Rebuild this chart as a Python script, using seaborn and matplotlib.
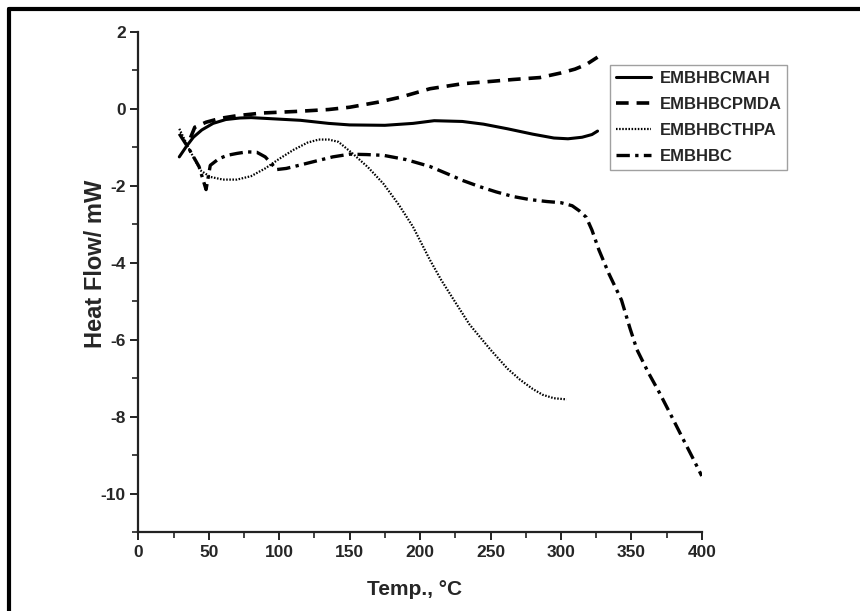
import numpy as np
import pandas as pd
import seaborn as sns
import matplotlib
matplotlib.use("Agg")
import matplotlib.pyplot as plt
from matplotlib.ticker import MultipleLocator
from matplotlib.lines import Line2D

# ---- data ----
mah_T = [29, 34, 39, 45, 53, 62, 72, 80, 95, 115, 135, 150, 175, 195, 210, 230, 245, 262, 280, 295, 305, 315, 322, 326]
mah_H = [-1.25, -0.98, -0.74, -0.55, -0.38, -0.28, -0.24, -0.23, -0.26, -0.30, -0.38, -0.42, -0.43, -0.38, -0.31,
         -0.33, -0.40, -0.52, -0.66, -0.76, -0.78, -0.74, -0.67, -0.58]

pmda_T = [37, 40, 48, 58, 70, 88, 112, 135, 150, 170, 186, 207, 230, 250, 266, 285, 300, 310, 318, 326]
pmda_H = [-0.75, -0.48, -0.35, -0.25, -0.18, -0.11, -0.07, -0.02, 0.04, 0.17, 0.30, 0.52, 0.65, 0.71, 0.76,
          0.81, 0.93, 1.03, 1.15, 1.34]

thpa_T = [29, 36, 44, 51, 60, 70, 80, 90, 100, 110, 120, 128, 135, 142, 152, 163, 174, 185, 195, 207, 215, 224,
          235, 250, 262, 271, 280, 287, 295, 304]
thpa_H = [-0.52, -1.05, -1.6, -1.77, -1.84, -1.84, -1.75, -1.55, -1.30, -1.07, -0.88, -0.80, -0.80, -0.86, -1.16,
          -1.52, -1.95, -2.5, -3.07, -3.93, -4.45, -4.97, -5.6, -6.26, -6.75, -7.04, -7.28, -7.43, -7.52, -7.55]

base_T = [29, 36, 43, 48, 51, 57, 63, 70, 77, 84, 90, 95, 98, 105, 115, 127, 138, 150, 162, 174, 190, 207, 220,
          230, 242, 254, 266, 278, 290, 300, 308, 313, 318, 322, 327, 334, 343, 349, 354, 362, 370, 378, 387, 394, 400]
base_H = [-0.65, -1.05, -1.5, -2.1, -1.47, -1.30, -1.21, -1.16, -1.12, -1.13, -1.25, -1.45, -1.58, -1.55, -1.46,
          -1.35, -1.25, -1.18, -1.19, -1.21, -1.32, -1.50, -1.70, -1.86, -2.02, -2.16, -2.28, -2.36, -2.41, -2.44,
          -2.52, -2.65, -2.82, -3.15, -3.67, -4.28, -4.97, -5.7, -6.26, -6.85, -7.38, -7.95, -8.6, -9.1, -9.54]

names = ["EMBHBCMAH", "EMBHBCPMDA", "EMBHBCTHPA", "EMBHBC"]
x_ticks = [0, 50, 100, 150, 200, 250, 300, 350, 400]
y_ticks = [-10, -8, -6, -4, -2, 0, 2]

frames = []
for n, t, h in zip(names, [mah_T, pmda_T, thpa_T, base_T], [mah_H, pmda_H, thpa_H, base_H]):
    frames.append(pd.DataFrame({"T": t, "H": h, "sample": n}))
df = pd.concat(frames, ignore_index=True)

# ---- style ----
sns.set_style("ticks")
plt.rcParams['font.family'] = ['Liberation Sans', 'DejaVu Sans']
plt.rcParams['font.weight'] = 'bold'

fig = plt.figure(figsize=(8.6, 6.11), dpi=100)
ax = fig.add_axes([0.161, 0.129, 0.655, 0.819])

dashes = {
    "EMBHBCMAH": "",
    "EMBHBCPMDA": (3.5, 2.2),
    "EMBHBCTHPA": (0.7, 0.7),
    "EMBHBC": (4.0, 1.6, 1.0, 1.6),
}
widths = {"EMBHBCMAH": 2.2, "EMBHBCPMDA": 2.6, "EMBHBCTHPA": 1.6, "EMBHBC": 2.4}

handles = []
for n in names:
    sub = df[df["sample"] == n]
    sns.lineplot(data=sub, x="T", y="H", ax=ax, color="black", sort=False, estimator=None,
                 linewidth=widths[n], legend=False)
    line = ax.lines[-1]
    h = Line2D([], [], color="black", lw=widths[n])
    if dashes[n] != "":
        line.set_dashes(dashes[n])
        h.set_dashes(dashes[n])
    handles.append(h)

ax.set_xlim(0, 400)
ax.set_ylim(-11, 2)
ax.set_xticks(x_ticks)
ax.set_yticks(y_ticks)
ax.xaxis.set_minor_locator(MultipleLocator(25))
ax.yaxis.set_minor_locator(MultipleLocator(1))
ax.set_xticklabels([str(v) for v in x_ticks], fontsize=12.5, fontweight='bold')
ax.set_yticklabels([str(v) for v in y_ticks], fontsize=12.5, fontweight='bold')

sns.despine(ax=ax)
for s in ["left", "bottom"]:
    ax.spines[s].set_linewidth(1.6)
    ax.spines[s].set_color("#222222")
ax.tick_params(which="major", direction="out", length=6, width=1.4, color="#222222", pad=3)
ax.tick_params(which="minor", direction="out", length=4, width=1.2, color="#222222")

ax.set_xlabel("Temp., °C", fontsize=15, fontweight='bold')
ax.set_ylabel("Heat Flow/ mW", fontsize=17, fontweight='bold')
ax.xaxis.set_label_coords(0.49, -0.096)
ax.yaxis.set_label_coords(-0.056, 0.536)

leg = fig.legend(handles, names, loc="upper left", bbox_to_anchor=(0.709, 0.893),
                 prop={"weight": "bold", "size": 12}, handlelength=2.1, handletextpad=0.55,
                 frameon=True, fancybox=False, borderpad=0.35, labelspacing=0.65, borderaxespad=0.0)
leg.get_frame().set_edgecolor("#888888")
leg.get_frame().set_linewidth(1.0)

# outer frame (left and top only, as in the reference)
fig.add_artist(Line2D([0.011, 0.011], [0.0, 0.985], transform=fig.transFigure, color="black", lw=3))
fig.add_artist(Line2D([0.011, 1.0], [0.985, 0.985], transform=fig.transFigure, color="black", lw=3))

fig.savefig("out.png", dpi=100)
